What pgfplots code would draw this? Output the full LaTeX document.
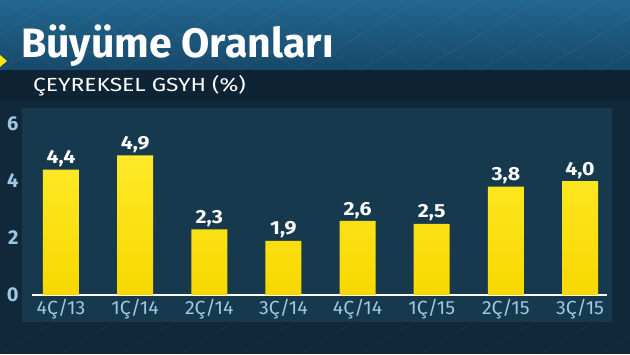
\documentclass[border=0pt]{standalone}
\usepackage{fontspec}
\setmainfont{Fira Sans}
\usepackage{graphicx}
\usepackage{pgfplots}
\pgfplotsset{compat=1.18}
\definecolor{topA}{HTML}{22668F}
\definecolor{topB}{HTML}{17496A}
\definecolor{band}{HTML}{0E2333}
\definecolor{outer}{HTML}{102839}
\definecolor{panel}{HTML}{16394E}
\definecolor{ticklab}{HTML}{9CC8E6}
\definecolor{barT}{HTML}{FFE928}
\definecolor{barM}{HTML}{E6BE00}
\definecolor{barB}{HTML}{F7D800}
\newcommand\xl[1]{\scalebox{1.03}[1]{#1}}
\begin{document}
\begin{tikzpicture}[x=1pt,y=1pt]
\useasboundingbox (0,0) rectangle (630,354);
\fill[outer] (0,0) rectangle (630,254);
\shade[top color=topA, bottom color=topB] (0,284) rectangle (630,354);
\fill[band] (0,254) rectangle (630,284);
\begin{scope}
\clip (0,284) rectangle (630,354);
\foreach \s in {-300,-240,...,700} {
  \draw[white, opacity=0.07, line width=0.6pt] (\s,284) -- ++(120,70);
  \draw[white, opacity=0.05, line width=0.6pt] (\s,354) -- ++(120,-70);
}
\end{scope}
\begin{scope}
\clip (0,0) rectangle (630,32);
\foreach \s in {-300,-240,...,700} {
  \draw[white, opacity=0.05, line width=0.6pt] (\s,0) -- ++(60,35);
}
\end{scope}
\fill[panel] (22,32) rectangle (612,246);
\fill[yellow!90!orange] (0,287) -- (7,293) -- (0,299) -- cycle;
\node[anchor=base west, text=white, font=\fontsize{41}{41}\selectfont\bfseries, inner sep=0pt] at (21,296) {Büyüme Oranları};
\node[anchor=base west, text=white, font=\fontsize{19}{19}\selectfont, inner sep=0pt] at (33,262) {\scalebox{1.2}[1]{ÇEYREKSEL GSYH (\%)}};
\begin{axis}[
  at={(32pt,59pt)}, anchor=south west,
  scale only axis, width=575pt, height=171pt,
  xmin=-0.391, xmax=7.364, ymin=0, ymax=6,
  axis x line=bottom, axis y line=left,
  x axis line style={white, line width=1.6pt, -},
  y axis line style={draw=none},
  major tick length=0pt,
  ytick={0,2,4,6},
  xtick={0,...,7},
  xticklabels={\xl{4Ç/13},\xl{1Ç/14},\xl{2Ç/14},\xl{3Ç/14},\xl{4Ç/14},\xl{1Ç/15},\xl{2Ç/15},\xl{3Ç/15}},
  /pgf/number format/assume math mode=true,
  xticklabel style={text=ticklab, font=\fontsize{19}{19}\selectfont, yshift=-1pt},
  yticklabel style={text=ticklab, font=\fontsize{20}{20}\selectfont\bfseries, xshift=-10pt},
  clip=false,
  ybar, bar width=36pt,
  nodes near coords={\scalebox{1.12}[1]{\pgfmathprintnumber[fixed,fixed zerofill,precision=1,use comma]{\pgfplotspointmeta}}},
  nodes near coords style={text=white, font=\fontsize{19}{19}\selectfont\bfseries, anchor=south, yshift=-1pt},
]
\addplot[draw=none, top color=barT, middle color=barM, bottom color=barB] coordinates {
(0,4.4) (1,4.9) (2,2.3) (3,1.9) (4,2.6) (5,2.5) (6,3.8) (7,4.0)};
\end{axis}
\end{tikzpicture}
\end{document}
